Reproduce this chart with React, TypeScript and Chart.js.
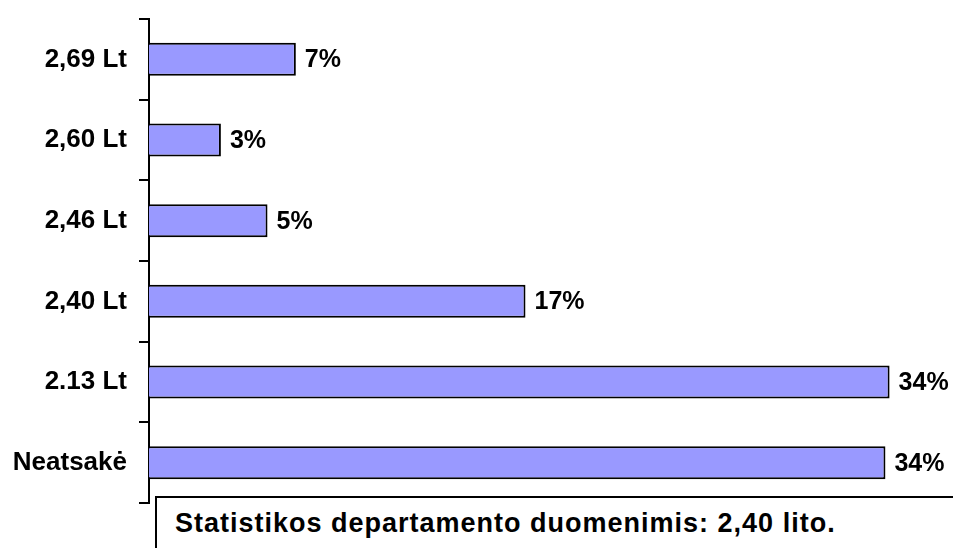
import React, { useEffect, useRef } from "react";
import { Chart, registerables } from "chart.js";

Chart.register(...registerables);

const categories: string[] = ["2,69 Lt", "2,60 Lt", "2,46 Lt", "2,40 Lt", "2.13 Lt", "Neatsakė"];
const shares: number[] = [6.74, 3.3, 5.44, 17.28, 33.99, 33.8];
const shareLabels: string[] = ["7%", "3%", "5%", "17%", "34%", "34%"];
const noteText = "Statistikos departamento duomenimis: 2,40 lito.";

const FONT = "'Liberation Sans', Arial, sans-serif";

const valueLabelPlugin = {
  id: "valueLabels",
  afterDatasetsDraw(chart: any) {
    const ctx = chart.ctx;
    const meta = chart.getDatasetMeta(0);
    ctx.save();
    ctx.font = `bold 25px ${FONT}`;
    ctx.fillStyle = "#000";
    ctx.textAlign = "left";
    ctx.textBaseline = "middle";
    meta.data.forEach((el: any, i: number) => {
      ctx.fillText(shareLabels[i], el.x + 9, el.y + 1);
    });
    ctx.restore();
  },
};

export default function App() {
  const canvasRef = useRef<HTMLCanvasElement | null>(null);

  useEffect(() => {
    if (!canvasRef.current) return;
    const chart = new Chart(canvasRef.current, {
      type: "bar",
      data: {
        labels: categories,
        datasets: [
          {
            data: shares,
            backgroundColor: "#9999ff",
            borderColor: "#000000",
            borderWidth: 2,
            barPercentage: 0.41,
            categoryPercentage: 1.0,
          },
        ],
      },
      options: {
        indexAxis: "y",
        responsive: false,
        maintainAspectRatio: false,
        animation: false,
        layout: { padding: { top: 19, bottom: 45, left: 0, right: 0 } },
        plugins: {
          legend: { display: false },
          tooltip: { enabled: false },
        },
        scales: {
          x: { display: false, min: 0, max: 36.9 },
          y: {
            position: "left",
            afterFit: (scale: any) => {
              scale.width = 149;
              scale.paddingTop = 0;
              scale.paddingBottom = 0;
            },
            border: { display: true, color: "#000", width: 2 },
            grid: {
              display: true,
              offset: true,
              drawOnChartArea: false,
              drawTicks: true,
              tickLength: 10,
              color: "#000",
              lineWidth: 2,
            },
            ticks: {
              color: "#000",
              padding: 12,
              font: { family: FONT, size: 26, weight: "bold" },
            },
          },
        },
      },
      plugins: [valueLabelPlugin],
    } as any);
    return () => chart.destroy();
  }, []);

  return (
    <div style={{ position: "fixed", left: 0, top: 0, width: 953, height: 548, background: "#fff", overflow: "hidden" }}>
      <canvas ref={canvasRef} width={953} height={548} style={{ position: "absolute", left: 0, top: 0 }} />
      <div
        style={{
          position: "absolute",
          left: 155,
          top: 496,
          width: 790,
          height: 100,
          border: "2px solid #000",
          background: "#fff",
          boxSizing: "content-box",
          paddingLeft: 18,
          paddingTop: 12,
          fontFamily: FONT,
          fontWeight: "bold",
          fontSize: 27,
          lineHeight: "26px",
          letterSpacing: "1px",
          color: "#000",
          whiteSpace: "nowrap",
        }}
      >
        {noteText}
      </div>
    </div>
  );
}
